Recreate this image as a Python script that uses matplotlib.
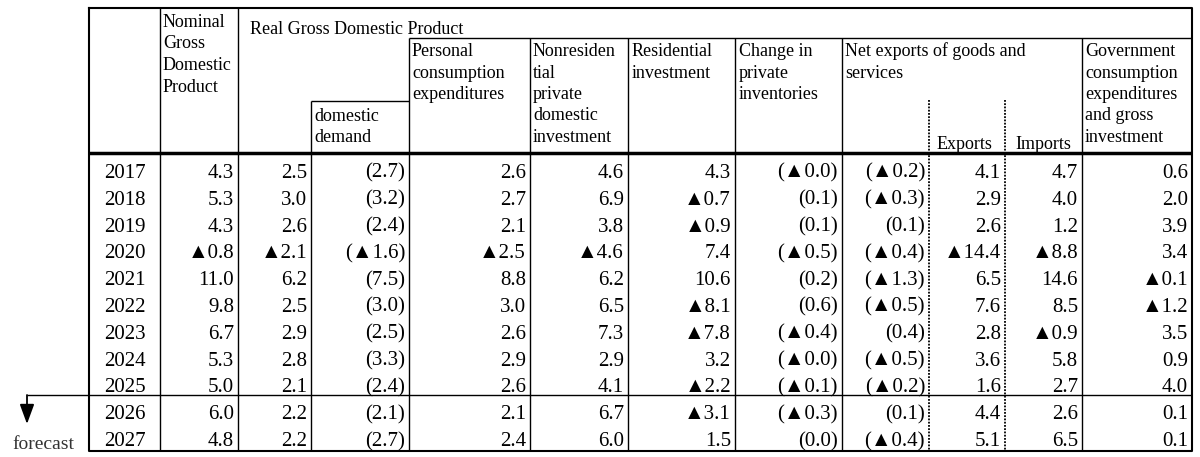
import matplotlib
matplotlib.use("Agg")
import matplotlib.pyplot as plt
import numpy as np

# ----------------------------------------------------------------------------------------------------------------------
#  DATA  (annual % change, contributions shown in parentheses, negative marked with a triangle)
# ----------------------------------------------------------------------------------------------------------------------
years        = [2017, 2018, 2019, 2020, 2021, 2022, 2023, 2024, 2025, 2026, 2027]
nominal_gdp  = [4.3, 5.3, 4.3, -0.8, 11.0, 9.8, 6.7, 5.3, 5.0, 6.0, 4.8]
real_gdp     = [2.5, 3.0, 2.6, -2.1, 6.2, 2.5, 2.9, 2.8, 2.1, 2.2, 2.2]
dom_demand   = [2.7, 3.2, 2.4, -1.6, 7.5, 3.0, 2.5, 3.3, 2.4, 2.1, 2.7]
pce          = [2.6, 2.7, 2.1, -2.5, 8.8, 3.0, 2.6, 2.9, 2.6, 2.1, 2.4]
nonres_inv   = [4.6, 6.9, 3.8, -4.6, 6.2, 6.5, 7.3, 2.9, 4.1, 6.7, 6.0]
resid_inv    = [4.3, -0.7, -0.9, 7.4, 10.6, -8.1, -7.8, 3.2, -2.2, -3.1, 1.5]
inventories  = [-0.0, 0.1, 0.1, -0.5, 0.2, 0.6, -0.4, -0.0, -0.1, -0.3, 0.0]
net_exports  = [-0.2, -0.3, 0.1, -0.4, -1.3, -0.5, 0.4, -0.5, -0.2, 0.1, -0.4]
exports      = [4.1, 2.9, 2.6, -14.4, 6.5, 7.6, 2.8, 3.6, 1.6, 4.4, 5.1]
imports      = [4.7, 4.0, 1.2, -8.8, 14.6, 8.5, -0.9, 5.8, 2.7, 2.6, 6.5]
government   = [0.6, 2.0, 3.9, 3.4, -0.1, -1.2, 3.5, 0.9, 4.0, 0.1, 0.1]
n_actual     = 9   # rows before the forecast line

header_nominal = ["Nominal", "Gross", "Domestic", "Product"]
header_real    = "Real Gross Domestic Product"
header_dom     = ["domestic", "demand"]
header_pce     = ["Personal", "consumption", "expenditures"]
header_nonres  = ["Nonresiden", "tial", "private", "domestic", "investment"]
header_resid   = ["Residential", "investment"]
header_inv     = ["Change in", "private", "inventories"]
header_net     = ["Net exports of goods and", "services"]
header_gov     = ["Government", "consumption", "expenditures", "and gross", "investment"]

# ----------------------------------------------------------------------------------------------------------------------
#  LAYOUT (pixel grid of the table)
# ----------------------------------------------------------------------------------------------------------------------
serif = ['Liberation Serif', 'DejaVu Sans']
head_fs = 13
data_fs = 15
x_left, x_right = 89, 1192
y_top, y_head, y_fc, y_bot = 8, 153, 395, 451

fig = plt.figure(figsize=(12, 4.57), dpi=100)
ax = fig.add_axes([0, 0, 1, 1])
ax.set_xlim(0, 1200)
ax.set_ylim(457, 0)
ax.axis('off')

lw = 1.0
# outer frame
ax.plot([x_left, x_right, x_right, x_left, x_left], [y_top, y_top, y_bot, y_bot, y_top], color='black', lw=1.5)
# full height verticals
for x in [160, 238]:
    ax.vlines(x, y_top, y_bot, color='black', lw=lw)
# verticals below the Real GDP title
for x in [409, 530, 628, 735, 842, 1082]:
    ax.vlines(x, 38, y_bot, color='black', lw=lw)
ax.hlines(38, 409, x_right, color='black', lw=lw)
# domestic demand box
ax.vlines(311, 101, y_bot, color='black', lw=lw)
ax.hlines(101, 311, 409, color='black', lw=lw)
# dotted separators for exports / imports
for x in [929, 1005]:
    ax.vlines(x, 100, y_bot, color='black', lw=1.3, linestyles=(0, (1, 0.8)))
# header bottom
ax.hlines(y_head, x_left, x_right, color='black', lw=2.5)
# forecast line and arrow
ax.hlines(y_fc, 27, x_right, color='black', lw=lw)
ax.annotate('', xy=(27, 424), xytext=(27, y_fc),
            arrowprops=dict(arrowstyle='-|>,head_length=0.6,head_width=0.22',
                            color='black', lw=1.3, mutation_scale=20, shrinkA=0, shrinkB=0))
ax.text(43, 449, 'forecast', ha='center', va='baseline', fontsize=14, family=serif, color='#333333')

# ----------------------------------------------------------------------------------------------------------------------
#  HEADER TEXT
# ----------------------------------------------------------------------------------------------------------------------
def header(lines, x, y0, step=21.5):
    for k, line in enumerate(lines):
        ax.text(x, y0 + k * step + 6, line, ha='left', va='baseline', fontsize=head_fs, family=serif)

header(header_nominal, 163, 21)
ax.text(250, 34, header_real, ha='left', va='baseline', fontsize=head_fs, family=serif)
header(header_pce, 412, 50)
header(header_nonres, 533, 50)
header(header_resid, 632, 50)
header(header_inv, 739, 50)
header(header_net, 845, 50)
header(header_gov, 1085, 50)
header(header_dom, 314, 115)
ax.text(937, 149, "Exports", ha='left', va='baseline', fontsize=head_fs, family=serif)
ax.text(1015, 149, "Imports", ha='left', va='baseline', fontsize=head_fs, family=serif)

# ----------------------------------------------------------------------------------------------------------------------
#  BODY
# ----------------------------------------------------------------------------------------------------------------------
def fmt(v, paren=False):
    s = ('▲' if np.signbit(v) else '') + f"{abs(v):.1f}"
    return f"({s})" if paren else s

columns = [(nominal_gdp, 238, False), (real_gdp, 311, False), (dom_demand, 409, True),
           (pce, 530, False), (nonres_inv, 628, False), (resid_inv, 735, False),
           (inventories, 842, True), (net_exports, 929, True), (exports, 1005, False),
           (imports, 1082, False), (government, x_right, False)]

for i, yr in enumerate(years):
    if i < n_actual:
        yc = 157 + 26.8 * (i + 0.5)
    else:
        yc = 398 + 27 * (i - n_actual + 0.5)
    ax.text(125, yc + 7.5, str(yr), ha='center', va='baseline', fontsize=data_fs, family=serif)
    for values, x_edge, paren in columns:
        ax.text(x_edge - 4, yc + 7.5, fmt(values[i], paren), ha='right', va='baseline',
                fontsize=data_fs, family=serif)

fig.savefig('out.png', dpi=100)
